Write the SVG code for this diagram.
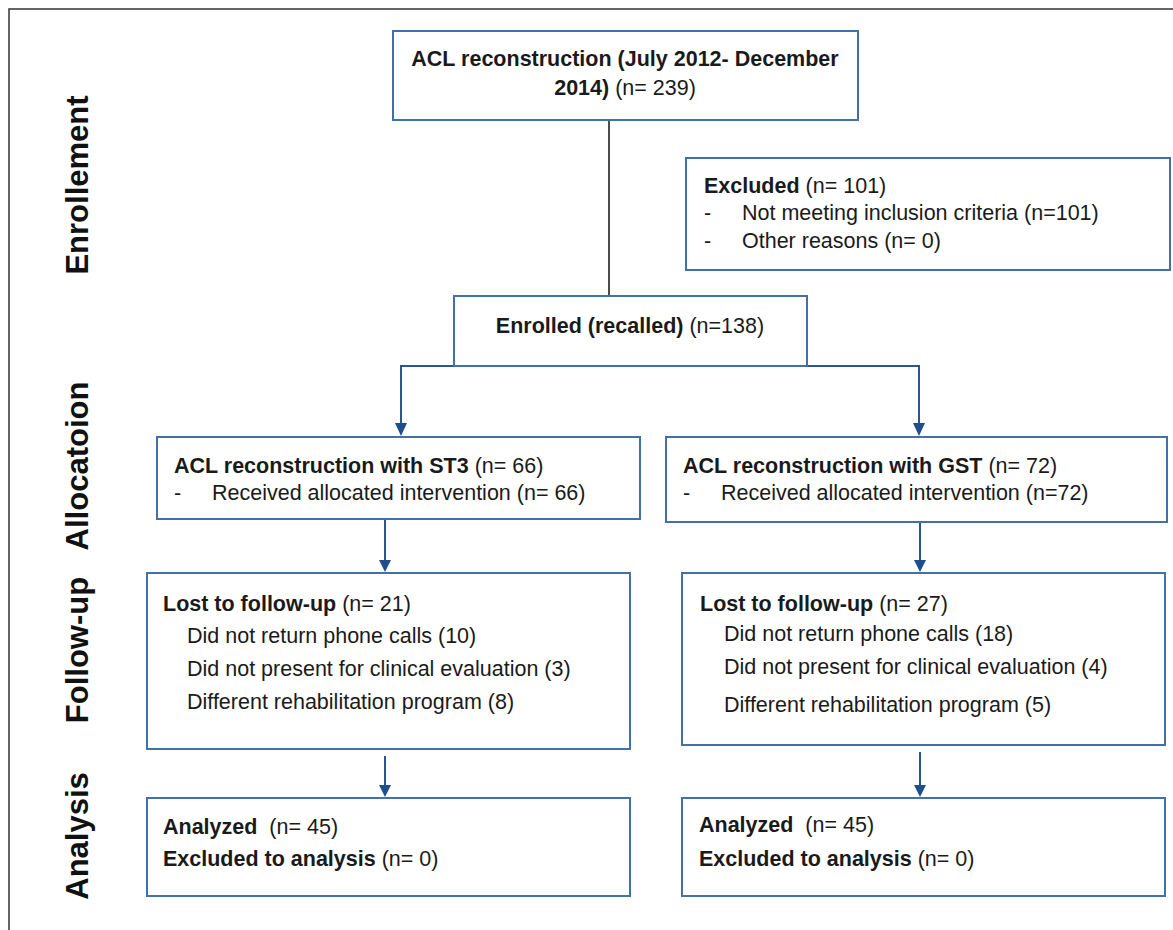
<svg xmlns="http://www.w3.org/2000/svg" width="1173" height="930" viewBox="0 0 1173 930">
<style>
.box{fill:#fff;stroke:#4470a8;stroke-width:2}
.t{font-family:"Liberation Sans",Arial,sans-serif;font-size:21.5px;fill:#1a1a1a}
.b{font-weight:bold}
.lab{font-family:"Liberation Sans",Arial,sans-serif;font-size:31px;font-weight:bold;fill:#111}
.c{fill:none;stroke:#2a5592;stroke-width:2}
.ah{fill:#1f4e8c}
</style>
<rect x="0" y="0" width="1173" height="930" fill="#fff"/>
<path d="M9,930 V9 H1173" fill="none" stroke="#333" stroke-width="1.5"/>
<g id="phase-labels">
<text class="lab" transform="translate(88,185) rotate(-90)" text-anchor="middle">Enrollement</text>
<text class="lab" transform="translate(88,466) rotate(-90)" text-anchor="middle">Allocatoion</text>
<text class="lab" transform="translate(88,650) rotate(-90)" text-anchor="middle">Follow-up</text>
<text class="lab" transform="translate(88,836) rotate(-90)" text-anchor="middle">Analysis</text>
</g>
<g id="connectors">
<line x1="609" y1="120" x2="609" y2="296" stroke="#111" stroke-width="1.5"/>
<path class="c" d="M454,366 H401 V424"/>
<path class="c" d="M807,366 H919 V424"/>
<path class="ah" d="M395,423 L407,423 L401,436 Z"/>
<path class="ah" d="M913,423 L925,423 L919,436 Z"/>
<path class="c" d="M385,519 V561"/>
<path class="ah" d="M379,560 L391,560 L385,572 Z"/>
<path class="c" d="M920,522 V561"/>
<path class="ah" d="M914,560 L926,560 L920,572 Z"/>
<path class="c" d="M385,756 V786"/>
<path class="ah" d="M379,785 L391,785 L385,797 Z"/>
<path class="c" d="M920,752 V786"/>
<path class="ah" d="M914,785 L926,785 L920,797 Z"/>
</g>
<g id="n-acl">
<rect class="box" x="393" y="31" width="465" height="89"/>
<text class="t b" x="625" y="66" text-anchor="middle">ACL reconstruction (July 2012- December</text>
<text class="t" x="625" y="95" text-anchor="middle"><tspan class="b">2014)</tspan> (n= 239)</text>
</g>
<g id="n-excluded">
<rect class="box" x="686" y="158" width="484" height="112"/>
<text class="t" x="704" y="193"><tspan class="b">Excluded</tspan> (n= 101)</text>
<text class="t" x="704" y="220">-</text>
<text class="t" x="742" y="220">Not meeting inclusion criteria (n=101)</text>
<text class="t" x="704" y="248">-</text>
<text class="t" x="742" y="248">Other reasons (n= 0)</text>
</g>
<g id="n-enrolled">
<rect class="box" x="454" y="296" width="353" height="70"/>
<text class="t" x="630" y="333" text-anchor="middle"><tspan class="b">Enrolled (recalled)</tspan> (n=138)</text>
</g>
<g id="n-st3">
<rect class="box" x="157" y="437" width="483" height="82"/>
<text class="t" x="174" y="473"><tspan class="b">ACL reconstruction with ST3</tspan> (n= 66)</text>
<text class="t" x="174" y="500">-</text>
<text class="t" x="212" y="500">Received allocated intervention (n= 66)</text>
</g>
<g id="n-gst">
<rect class="box" x="666" y="437" width="501" height="85"/>
<text class="t" x="683" y="473"><tspan class="b">ACL reconstruction with GST</tspan> (n= 72)</text>
<text class="t" x="683" y="500">-</text>
<text class="t" x="721" y="500">Received allocated intervention (n=72)</text>
</g>
<g id="n-lost-st3">
<rect class="box" x="147" y="573" width="483" height="176"/>
<text class="t" x="163" y="611"><tspan class="b">Lost to follow-up</tspan> (n= 21)</text>
<text class="t" x="187" y="643">Did not return phone calls (10)</text>
<text class="t" x="187" y="676">Did not present for clinical evaluation (3)</text>
<text class="t" x="187" y="709">Different rehabilitation program (8)</text>
</g>
<g id="n-lost-gst">
<rect class="box" x="682" y="573" width="483" height="172"/>
<text class="t" x="700" y="611"><tspan class="b">Lost to follow-up</tspan> (n= 27)</text>
<text class="t" x="724" y="641">Did not return phone calls (18)</text>
<text class="t" x="724" y="674">Did not present for clinical evaluation (4)</text>
<text class="t" x="724" y="712">Different rehabilitation program (5)</text>
</g>
<g id="n-analysis-st3">
<rect class="box" x="147" y="798" width="483" height="98"/>
<text class="t" x="163" y="834"><tspan class="b">Analyzed</tspan>&#160; (n= 45)</text>
<text class="t" x="163" y="866"><tspan class="b">Excluded to analysis</tspan> (n= 0)</text>
</g>
<g id="n-analysis-gst">
<rect class="box" x="682" y="798" width="483" height="98"/>
<text class="t" x="699" y="832"><tspan class="b">Analyzed</tspan>&#160; (n= 45)</text>
<text class="t" x="699" y="866"><tspan class="b">Excluded to analysis</tspan> (n= 0)</text>
</g>
</svg>
